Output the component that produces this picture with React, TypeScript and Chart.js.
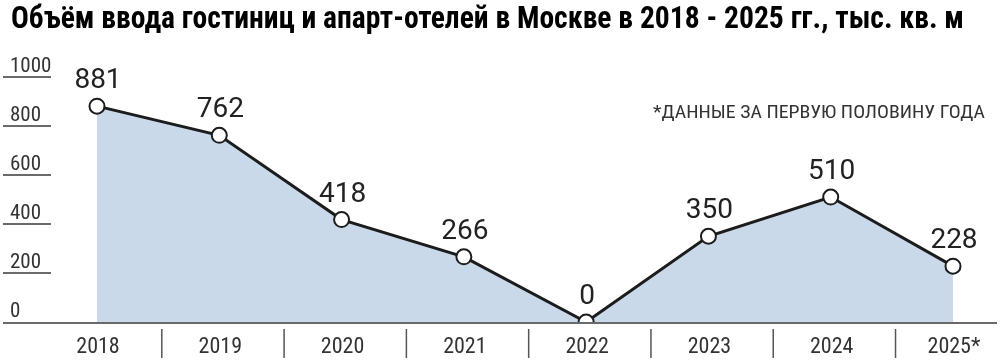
import React, { useEffect, useRef } from "react";
import { Chart, registerables } from "chart.js";

Chart.register(...registerables);

const TITLE = "Объём ввода гостиниц и апарт-отелей в Москве в 2018 - 2025 гг., тыс. кв. м";
const NOTE = "*ДАННЫЕ ЗА ПЕРВУЮ ПОЛОВИНУ ГОДА";
const years = ["2018", "2019", "2020", "2021", "2022", "2023", "2024", "2025*"];
const values = [881, 762, 418, 266, 0, 350, 510, 228];
const yTicks = [0, 200, 400, 600, 800, 1000];

const NARROW = '"Liberation Sans Narrow", "Arial Narrow", "Roboto Condensed", sans-serif';

function fillFit(ctx: any, text: string, x: number, y: number, width: number) {
  const w = ctx.measureText(text).width;
  const s = width / w;
  ctx.save();
  ctx.textAlign = "left";
  ctx.translate(x, y);
  ctx.scale(s, 1);
  ctx.fillText(text, 0, 0);
  ctx.restore();
}

const decor = {
  id: "decor",
  afterDraw(chart: any) {
    const { ctx, scales } = chart;
    const x = scales.x;
    const y = scales.y;
    const W = chart.width;
    ctx.save();
    ctx.textBaseline = "alphabetic";
    // title
    ctx.fillStyle = "#000";
    ctx.font = `bold 32px ${NARROW}`;
    fillFit(ctx, TITLE, 11, 28, 953);
    // note
    ctx.fillStyle = "#333";
    ctx.font = `18px ${NARROW}`;
    fillFit(ctx, NOTE, 653, 118, 332);
    // y ticks (short lines with labels above)
    ctx.textAlign = "left";
    ctx.font = `21px ${NARROW}`;
    yTicks.forEach((v) => {
      const py = y.getPixelForValue(v);
      ctx.strokeStyle = "#6a6a6a";
      ctx.lineWidth = 2;
      if (v !== 0) {
        ctx.beginPath();
        ctx.moveTo(3, py);
        ctx.lineTo(51, py);
        ctx.stroke();
      }
      ctx.fillStyle = "#333";
      ctx.fillText(String(v), 10, py - 5);
    });
    // x axis line
    const base = y.getPixelForValue(0);
    ctx.strokeStyle = "#6a6a6a";
    ctx.lineWidth = 2;
    ctx.beginPath();
    ctx.moveTo(3, base + 1);
    ctx.lineTo(W - 3, base + 1);
    ctx.stroke();
    // separators
    ctx.strokeStyle = "#555";
    ctx.lineWidth = 1.5;
    for (let i = 0; i < years.length - 1; i++) {
      const px = x.getPixelForValue(i + 0.53);
      ctx.beginPath();
      ctx.moveTo(px, base + 7);
      ctx.lineTo(px, base + 36);
      ctx.stroke();
    }
    // x labels
    ctx.fillStyle = "#333";
    ctx.font = `22px ${NARROW}`;
    ctx.textAlign = "center";
    years.forEach((lab, i) => {
      ctx.fillText(lab, x.getPixelForValue(i) + 1, base + 31);
    });
    // data labels
    ctx.fillStyle = "#222";
    ctx.font = `28px Roboto, "Liberation Sans", sans-serif`;
    values.forEach((v, i) => {
      ctx.fillText(String(v), x.getPixelForValue(i) + 1, y.getPixelForValue(v) - 18);
    });
    ctx.restore();
  },
};

export default function App() {
  const ref = useRef<HTMLCanvasElement>(null);
  useEffect(() => {
    if (!ref.current) return;
    const chart = new Chart(ref.current, {
      type: "line",
      data: {
        labels: years,
        datasets: [
          {
            data: values,
            fill: "origin",
            backgroundColor: "#c9d9ea",
            borderColor: "#1c1c1c",
            borderWidth: 3,
            pointRadius: 7.5,
            pointBorderWidth: 2,
            pointBackgroundColor: "#ffffff",
            pointBorderColor: "#1c1c1c",
            tension: 0,
          },
        ],
      },
      options: {
        animation: false,
        responsive: true,
        maintainAspectRatio: false,
        layout: { padding: { left: 97, right: 47, top: 77, bottom: 42 } },
        plugins: { legend: { display: false }, tooltip: { enabled: false }, title: { display: false } },
        scales: {
          x: { display: false, offset: false },
          y: { display: false, min: 0, max: 1000 },
        },
      },
      plugins: [decor],
    });
    return () => chart.destroy();
  }, []);
  return (
    <div style={{ position: "absolute", left: 0, top: 0, width: 1000, height: 364, background: "#fff" }}>
      <canvas ref={ref} />
    </div>
  );
}
